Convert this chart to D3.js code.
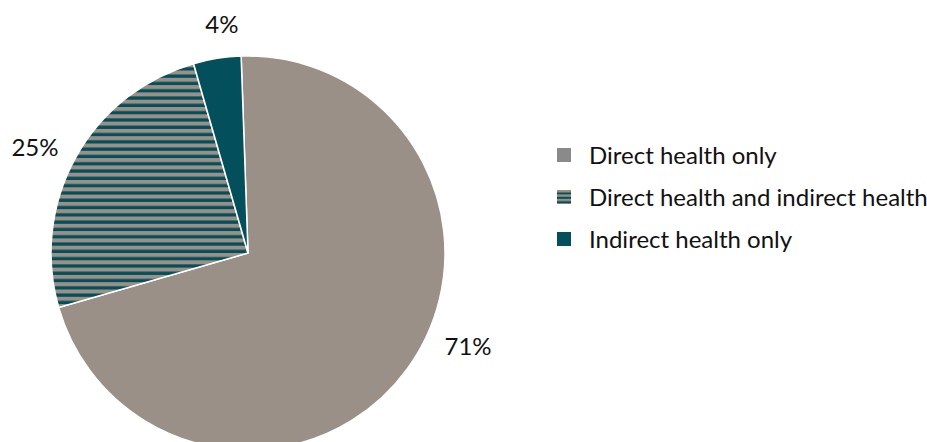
<!DOCTYPE html>
<html>
<head>
<meta charset="utf-8">
<script src="https://cdn.jsdelivr.net/npm/d3@7"></script>
<style>
  body { margin: 0; background: #fff; }
  text { font-family: Lato, "Open Sans", sans-serif; fill: #111; }
</style>
</head>
<body>
<svg width="927" height="442"></svg>
<script>
// data
var categories = ['Direct health only', 'Direct health and indirect health', 'Indirect health only'];
var shares = [71.1, 25.0, 3.9];
var labels = ['71%', '25%', '4%'];

var svg = d3.select('svg');

var cx = 248, cy = 253, radius = 197;
var gray = '#9a9087', teal = '#034f5b';

// stripe pattern for the mixed slice
var defs = svg.append('defs');
var pat = defs.append('pattern')
    .attr('id', 'stripes')
    .attr('patternUnits', 'userSpaceOnUse')
    .attr('width', 8)
    .attr('height', 7.3);
pat.append('rect').attr('width', 8).attr('height', 7.3).attr('fill', gray);
pat.append('rect').attr('y', 4).attr('width', 8).attr('height', 3.3).attr('fill', teal);

var legPat = defs.append('pattern')
    .attr('id', 'legStripes')
    .attr('patternUnits', 'userSpaceOnUse')
    .attr('width', 8)
    .attr('height', 4.4);
legPat.append('rect').attr('width', 8).attr('height', 4.4).attr('fill', gray);
legPat.append('rect').attr('y', 2.4).attr('width', 8).attr('height', 2).attr('fill', teal);

var fills = [gray, 'url(#stripes)', teal];
var legendFills = ['#8a8a8a', 'url(#legStripes)', teal];

var startDeg = -2;
var pie = d3.pie()
    .sort(null)
    .startAngle(startDeg * Math.PI / 180)
    .endAngle((startDeg + 360) * Math.PI / 180);

var arcs = pie(shares);

var arc = d3.arc().innerRadius(0).outerRadius(radius);

var g = svg.append('g').attr('transform', 'translate(' + [cx, cy] + ')');

g.selectAll('.slice')
    .data(arcs)
    .enter()
    .append('path')
    .attr('class', 'slice')
    .attr('d', arc)
    .attr('fill', (d, i) => fills[i])
    .attr('stroke', '#fff')
    .attr('stroke-width', 1.5)
    .attr('stroke-linejoin', 'round');

// data labels, nudged like the best-fit placement of the original
var labelShift = [-13, -2.5, 2.5]; // degrees
var labelRadius = [239, 238, 230];
g.selectAll('.pct')
    .data(arcs)
    .enter()
    .append('text')
    .attr('class', 'pct')
    .attr('text-anchor', 'middle')
    .attr('font-size', 24)
    .attr('dy', '0.36em')
    .attr('transform', function (d, i) {
        var a = (d.startAngle + d.endAngle) / 2 + labelShift[i] * Math.PI / 180;
        var r = labelRadius[i];
        return 'translate(' + [Math.sin(a) * r, -Math.cos(a) * r] + ')';
    })
    .text((d, i) => labels[i]);

// legend
var legend = svg.append('g').attr('transform', 'translate(557,148)');
var rows = legend.selectAll('.row')
    .data(categories)
    .enter()
    .append('g')
    .attr('class', 'row')
    .attr('transform', (d, i) => 'translate(0,' + i * 42 + ')');

rows.append('rect')
    .attr('width', 14)
    .attr('height', 14)
    .attr('fill', (d, i) => legendFills[i]);

rows.append('text')
    .attr('x', 32)
    .attr('y', 16)
    .attr('font-size', 24)
    .text(d => d);
</script>
</body>
</html>
